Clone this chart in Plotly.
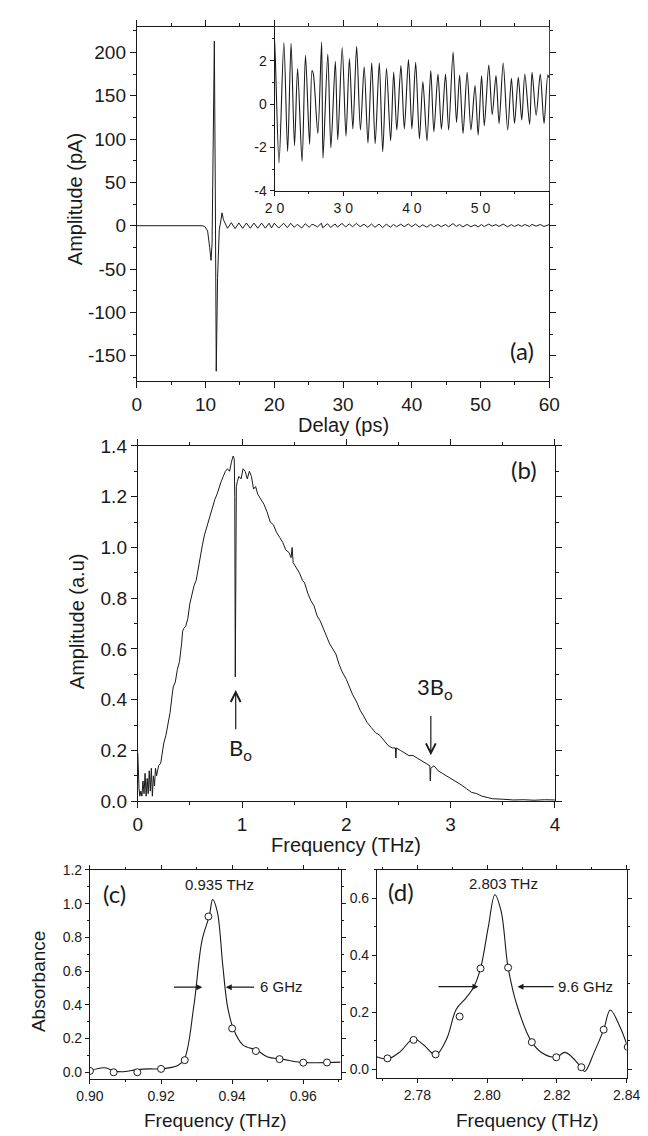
import plotly.graph_objects as go

W, H = 648, 1136

# ---------------- data: panel (a) time-domain ----------------
delay_main = [0, 2, 4, 6, 8, 9.5, 9.9, 10.3, 10.6, 10.8, 10.95, 11.1, 11.28, 11.42, 11.56,
              11.75, 12.0, 12.15, 12.4, 12.6, 12.8, 13.2, 13.75, 14.3, 14.85, 15.4, 15.95,
              16.5, 17.05, 17.6, 18.15, 18.7, 19.25, 19.6]
amp_main = [0, 0, 0, 0, 0, 0, -1, -6, -25, -40, -20, 80, 213, 40, -168,
            -60, -4, 2, 14.8, 7, 3, -3, 3.5, -3.4, 3.2, -3, 3.1,
            -2.9, 3, -2.9, 3, -2.8, 2.9, -2.6]

delay_inset = [20.0, 20.12, 20.65, 21.35, 21.9, 22.4, 22.9, 23.35, 24.0, 24.5, 25.1, 25.45, 25.65,
               26.3, 26.85, 27.05, 27.75, 28.2, 28.85, 29.2, 29.85, 30.4, 30.9, 31.4, 31.95,
               32.5, 33.05, 33.6, 34.15, 34.65, 35.25, 35.75, 36.3, 36.9, 37.35, 37.8, 38.4,
               38.9, 39.5, 40.0, 40.55, 41.1, 41.6, 42.2, 42.75, 43.2, 43.8, 44.3, 44.9, 45.35,
               46.0, 46.5, 46.95, 47.45, 48.05, 48.6, 49.2, 49.65, 50.15, 50.55, 51.2, 51.7,
               52.25, 52.7, 53.3, 53.95, 54.5, 54.95, 55.5, 56.0, 56.45, 57.15, 57.5, 58.1,
               58.7, 59.25, 59.8, 60.0]
amp_inset = [2.9, 2.0, -2.72, 2.83, -2.19, 2.8, -1.92, 1.64, -2.65, 2.25, -1.86, 1.54, 1.38,
             -1.36, 2.86, -2.5, 2.3, -2.02, 1.97, -1.65, 2.6, -1.48, 2.1, -1.15, 2.66,
             -1.2, 1.72, -1.8, 1.9, -1.83, 1.9, -2.2, 1.65, -1.7, 1.48, -1.2, 1.77,
             -1.15, 2.05, -1.15, 1.92, -1.61, 1.04, -1.7, 1.54, -1.28, 1.38, -1.16, 1.38, -1.2,
             2.4, -0.85, 1.34, -1.36, 1.46, -1.2, 0.85, -1.43, 1.3, -1.0, 1.8, -0.49,
             1.31, -0.9, 1.89, -1.2, 1.19, -0.9, 1.23, -0.74, 1.38, -0.94, 1.46, -0.52,
             1.38, -0.9, 1.34, 1.2]

# ---------------- data: panel (b) spectrum ----------------
freq_b = [0.000, 0.005, 0.012, 0.02, 0.03, 0.04, 0.05, 0.06, 0.07, 0.08, 0.09, 0.10, 0.11, 0.12,
          0.13, 0.14, 0.15, 0.16, 0.17, 0.18, 0.20, 0.22, 0.24, 0.25, 0.27, 0.29, 0.31, 0.33,
          0.34, 0.36, 0.38, 0.40, 0.41, 0.42, 0.43, 0.44, 0.46, 0.48, 0.50, 0.52, 0.54, 0.56,
          0.58, 0.60, 0.62, 0.64, 0.66, 0.68, 0.70, 0.72, 0.74, 0.76, 0.78, 0.80, 0.82, 0.84,
          0.86, 0.88, 0.90, 0.915, 0.925, 0.930, 0.935, 0.940, 0.945, 0.955, 0.97, 0.99, 1.01,
          1.03, 1.05, 1.07, 1.09, 1.11, 1.13, 1.15, 1.18, 1.21, 1.24, 1.27, 1.30, 1.33, 1.36,
          1.39, 1.42, 1.45, 1.47, 1.48, 1.49, 1.52, 1.55, 1.58, 1.60, 1.63, 1.66, 1.69, 1.72,
          1.75, 1.78, 1.81, 1.84, 1.87, 1.90, 1.93, 1.96, 2.00, 2.03, 2.06, 2.10, 2.13, 2.16,
          2.20, 2.24, 2.28, 2.32, 2.36, 2.40, 2.44, 2.47, 2.475, 2.48, 2.52, 2.56, 2.60, 2.64,
          2.68, 2.72, 2.76, 2.79, 2.80, 2.805, 2.81, 2.84, 2.88, 2.92, 2.96, 3.00, 3.05, 3.10,
          3.15, 3.20, 3.25, 3.30, 3.35, 3.40, 3.50, 3.60, 3.70, 3.80, 3.90, 4.00]
ampl_b = [0.19, 0.12, 0.05, 0.02, 0.04, 0.02, 0.08, 0.03, 0.11, 0.02, 0.09, 0.03, 0.12, 0.04,
          0.13, 0.02, 0.10, 0.06, 0.13, 0.10, 0.14, 0.15, 0.21, 0.23, 0.26, 0.30, 0.35, 0.42,
          0.45, 0.47, 0.52, 0.55, 0.58, 0.62, 0.67, 0.68, 0.69, 0.72, 0.78, 0.82, 0.85, 0.87,
          0.92, 0.97, 1.01, 1.05, 1.08, 1.11, 1.14, 1.17, 1.19, 1.21, 1.24, 1.26, 1.28, 1.30,
          1.31, 1.30, 1.34, 1.36, 1.35, 1.20, 0.49, 1.10, 1.24, 1.26, 1.28, 1.27, 1.31,
          1.30, 1.27, 1.30, 1.28, 1.23, 1.24, 1.21, 1.19, 1.17, 1.14, 1.10, 1.09, 1.06, 1.04,
          1.02, 0.99, 0.98, 0.96, 1.00, 0.94, 0.92, 0.90, 0.87, 0.86, 0.82, 0.79, 0.77, 0.73,
          0.71, 0.68, 0.65, 0.62, 0.60, 0.58, 0.54, 0.51, 0.48, 0.45, 0.42, 0.39, 0.36, 0.34,
          0.31, 0.29, 0.27, 0.26, 0.24, 0.22, 0.21, 0.21, 0.17, 0.21, 0.20, 0.19, 0.18, 0.18,
          0.17, 0.16, 0.15, 0.14, 0.14, 0.08, 0.13, 0.14, 0.12, 0.11, 0.10, 0.09, 0.08, 0.065,
          0.05, 0.035, 0.03, 0.02, 0.015, 0.01, 0.008, 0.005, 0.006, 0.004, 0.006, 0.005]

# ---------------- data: panel (c) ----------------
freq_c_pts = [0.9, 0.90667, 0.91333, 0.92, 0.92667, 0.93333, 0.94, 0.94667, 0.95333, 0.96, 0.96667]
abs_c_pts = [0.008, 0.0, 0.0, 0.02, 0.072, 0.924, 0.26, 0.126, 0.078, 0.057, 0.058]
freq_c_fit = [0.9, 0.9042, 0.9067, 0.909, 0.913, 0.9166, 0.92, 0.9247, 0.9266, 0.9292, 0.9315,
              0.9336, 0.9345, 0.9358, 0.9374, 0.9387, 0.9403, 0.943, 0.947, 0.950, 0.954,
              0.9583, 0.9605, 0.9672, 0.9705]
abs_c_fit = [0.01, 0.027, 0.008, 0.003, 0.014, 0.02, 0.02, 0.04, 0.08, 0.39, 0.78,
             0.93, 1.025, 0.955, 0.625, 0.39, 0.26, 0.163, 0.13, 0.09, 0.078,
             0.062, 0.057, 0.058, 0.06]

# ---------------- data: panel (d) ----------------
freq_d_pts = [2.7714, 2.7789, 2.7852, 2.7921, 2.7981, 2.806, 2.8128, 2.8198, 2.827, 2.8334, 2.8403]
abs_d_pts = [0.038, 0.103, 0.052, 0.185, 0.354, 0.357, 0.095, 0.042, 0.007, 0.139, 0.078]
freq_d_fit = [2.7683, 2.7714, 2.775, 2.7789, 2.7819, 2.7852, 2.7884, 2.7911, 2.7939, 2.7962,
              2.7981, 2.8003, 2.8022, 2.804, 2.806, 2.8086, 2.8128, 2.816, 2.8198, 2.8224,
              2.827, 2.828, 2.8307, 2.8334, 2.8353, 2.838, 2.8403]
abs_d_fit = [0.044, 0.036, 0.061, 0.107, 0.084, 0.05, 0.107, 0.21, 0.25, 0.29,
             0.354, 0.498, 0.613, 0.555, 0.357, 0.222, 0.095, 0.055, 0.042, 0.059,
             0.006, -0.008, 0.06, 0.139, 0.208, 0.151, 0.078]

# ---------------- layout helpers ----------------
def fx(x):
    return x / W

def fy(y):
    return 1 - y / H

FONT = "Liberation Sans, Arial, sans-serif"
LBL = "Lato, Carlito, Calibri, sans-serif"
INK = "#1a1a1a"

fig = go.Figure()

fig.add_trace(go.Scatter(x=delay_main + delay_inset, y=amp_main + amp_inset, mode="lines",
                         line=dict(color=INK, width=1), xaxis="x", yaxis="y", showlegend=False))
fig.add_trace(go.Scatter(x=delay_inset, y=amp_inset, mode="lines",
                         line=dict(color=INK, width=1.1, shape="spline", smoothing=0.8),
                         xaxis="x2", yaxis="y2", showlegend=False))
fig.add_trace(go.Scatter(x=freq_b, y=ampl_b, mode="lines",
                         line=dict(color=INK, width=1), xaxis="x3", yaxis="y3", showlegend=False))
fig.add_trace(go.Scatter(x=freq_c_fit, y=abs_c_fit, mode="lines",
                         line=dict(color=INK, width=1.1, shape="spline", smoothing=1.0),
                         xaxis="x4", yaxis="y4", showlegend=False))
fig.add_trace(go.Scatter(x=freq_c_pts, y=abs_c_pts, mode="markers",
                         marker=dict(symbol="circle", size=7, color="white",
                                     line=dict(width=1, color=INK)),
                         xaxis="x4", yaxis="y4", showlegend=False))
fig.add_trace(go.Scatter(x=freq_d_fit, y=abs_d_fit, mode="lines",
                         line=dict(color=INK, width=1.1, shape="spline", smoothing=1.0),
                         xaxis="x5", yaxis="y5", showlegend=False))
fig.add_trace(go.Scatter(x=freq_d_pts, y=abs_d_pts, mode="markers",
                         marker=dict(symbol="circle", size=7, color="white",
                                     line=dict(width=1, color=INK)),
                         xaxis="x5", yaxis="y5", showlegend=False))

def ax(domain, rng, dtick, minor, size, anchor, mirror="allticks", tickvals=None, ticktext=None,
       ticklen=6, showticklabels=True):
    d = dict(domain=domain, range=rng, anchor=anchor, showline=True, linecolor=INK, linewidth=1,
             mirror=mirror, ticks="outside", ticklen=ticklen, tickcolor=INK, tickwidth=1,
             showgrid=False, zeroline=False, showticklabels=showticklabels,
             tickfont=dict(family=FONT, size=size, color=INK),
             minor=dict(ticks="outside", ticklen=max(2, ticklen // 2), dtick=minor, tickcolor=INK,
                        showgrid=False))
    if tickvals is not None:
        d.update(tickmode="array", tickvals=tickvals, ticktext=ticktext)
    else:
        d.update(dtick=dtick, tick0=0)
    return d

fig.update_layout(
    width=W, height=H, margin=dict(l=0, r=0, t=0, b=0),
    paper_bgcolor="white", plot_bgcolor="white",
    xaxis=ax([fx(120), fx(551)], [0, 60], 10, 5, 19, "y"),
    yaxis=ax([fy(370), fy(9)], [-179.4, 229.5], 50, 25, 19, "x",
             tickvals=[-150, -100, -50, 0, 50, 100, 150, 200],
             ticktext=["-150", "-100", "-50", "0", "50", "100", "150", "200"]),
    xaxis2=ax([fx(264), fx(551)], [20, 60], 10, 5, 14, "y2", mirror=False, ticklen=4,
              tickvals=[20, 30, 40, 50], ticktext=["2 0", "3 0", "4 0", "5 0"]),
    yaxis2=ax([fy(176), fy(9)], [-4, 3.56], 2, 1, 14, "x2", mirror=False, ticklen=4,
              tickvals=[-4, -2, 0, 2], ticktext=["-4", "-2", "0", "2"]),
    xaxis3=ax([fx(121), fx(557)], [0, 4], 1, 0.5, 19, "y3"),
    yaxis3=ax([fy(798), fy(436)], [0, 1.4], 0.2, 0.1, 19, "x3",
              tickvals=[0, 0.2, 0.4, 0.6, 0.8, 1.0, 1.2, 1.4],
              ticktext=["0.0", "0.2", "0.4", "0.6", "0.8", "1.0", "1.2", "1.4"]),
    xaxis4=ax([fx(71), fx(333)], [0.9, 0.9705], 0.02, 0.01, 14, "y4", ticklen=4,
              tickvals=[0.90, 0.92, 0.94, 0.96], ticktext=["0.90", "0.92", "0.94", "0.96"]),
    yaxis4=ax([fy(1081), fy(868)], [-0.04, 1.2], 0.2, 0.1, 14, "x4", ticklen=4,
              tickvals=[0, 0.2, 0.4, 0.6, 0.8, 1.0, 1.2],
              ticktext=["0.0", "0.2", "0.4", "0.6", "0.8", "1.0", "1.2"]),
    xaxis5=ax([fx(371), fx(632)], [2.7684, 2.84], 0.02, 0.01, 14, "y5", ticklen=4,
              tickvals=[2.78, 2.80, 2.82, 2.84], ticktext=["2.78", "2.80", "2.82", "2.84"]),
    yaxis5=ax([fy(1080), fy(868)], [-0.031, 0.7], 0.2, 0.1, 14, "x5", ticklen=4,
              tickvals=[0, 0.2, 0.4, 0.6], ticktext=["0.0", "0.2", "0.4", "0.6"]),
)

ann = []

def paper_text(text, x, y, size, family=FONT, angle=0, xanchor="center"):
    ann.append(dict(text=text, x=fx(x), y=fy(y), xref="paper", yref="paper", showarrow=False,
                    font=dict(family=family, size=size, color=INK), textangle=angle,
                    xanchor=xanchor, yanchor="middle"))

# axis titles
paper_text("Amplitude (pA)", 55, 185, 20, angle=-90)
paper_text("Delay (ps)", 336, 415, 20)
paper_text("Amplitude (a.u)", 57, 615, 20, angle=-90)
paper_text("Frequency (THz)", 339, 843, 20)
paper_text("Absorbance", 18, 982, 19, angle=-90)
paper_text("Frequency (THz)", 202, 1123, 19)
paper_text("Frequency (THz)", 528, 1123, 19)

# panel labels
paper_text("(a)", 523, 339, 24, family=LBL)
paper_text("(b)", 525, 460, 24, family=LBL)
paper_text("(c)", 97, 892, 24, family=LBL)
paper_text("(d)", 396, 890, 24, family=LBL)

# in-plot texts
paper_text("B<sub>o</sub>", 228, 745, 22, family=LBL)
paper_text("3B<sub>o</sub>", 432, 683, 22, family=LBL)
paper_text("0.935 THz", 206, 883, 15)
paper_text("2.803 THz", 503, 882, 15)
paper_text("6 GHz", 247, 987, 15, xanchor="left")
paper_text("9.6 GHz", 558, 987, 15, xanchor="left")

def arrow(xr, yr, x, y, axv, ayv, head=1, size=1.0):
    ann.append(dict(x=x, y=y, ax=axv, ay=ayv, xref=xr, yref=yr, axref=xr, ayref=yr,
                    showarrow=True, arrowhead=head, arrowsize=size, arrowwidth=1.2,
                    arrowcolor=INK, text=""))

arrow("x3", "y3", 0.939, 0.438, 0.939, 0.278, head=5, size=1.6)
arrow("x3", "y3", 2.81, 0.181, 2.81, 0.342, head=5, size=1.6)
arrow("x4", "y4", 0.9316, 0.505, 0.9232, 0.505, head=2, size=1.0)
arrow("x4", "y4", 0.9382, 0.505, 0.9466, 0.505, head=2, size=1.0)
arrow("x5", "y5", 2.7975, 0.29, 2.7856, 0.29, head=2, size=1.0)
arrow("x5", "y5", 2.8087, 0.29, 2.8195, 0.29, head=2, size=1.0)

fig.update_layout(annotations=ann)

fig.write_html("out.html")
